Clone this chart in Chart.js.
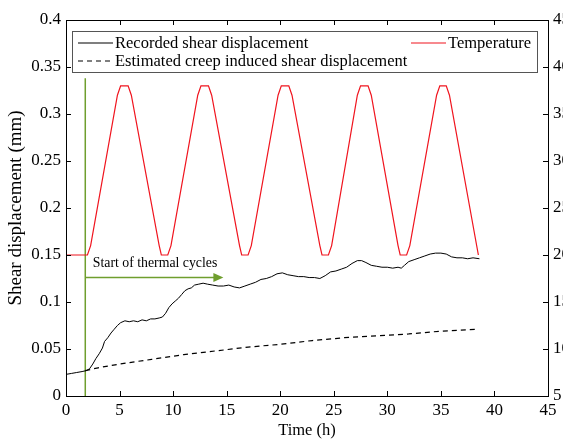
<!DOCTYPE html>
<html>
<head>
<meta charset="utf-8">
<script src="https://cdn.jsdelivr.net/npm/chart.js@4.4.0/dist/chart.umd.min.js"></script>
<style>
  html, body { margin: 0; padding: 0; background: #fff; overflow: hidden; }
  #wrap { width: 590px; height: 440px; }
</style>
</head>
<body>
<div id="wrap"><canvas id="shearChart" width="590" height="440"></canvas></div>
<script>
// values (time in hours)
const recordedTime = [0, 0.5, 1.0, 1.5, 1.9, 2.2, 2.5, 2.8, 3.1, 3.4, 3.6, 3.9, 4.2, 4.5, 4.8, 5.1, 5.5, 5.9, 6.3, 6.7,
  7.1, 7.5, 7.9, 8.3, 8.7, 9.0, 9.3, 9.6, 9.9, 10.2, 10.5, 10.8, 11.1, 11.4, 11.7, 12.0, 12.4, 12.8, 13.2, 13.7,
  14.2, 14.7, 15.2, 15.7, 16.2, 16.7, 17.2, 17.7, 18.2, 18.7, 19.2, 19.7, 20.2, 20.7, 21.2, 21.7, 22.2, 22.7, 23.2, 23.7,
  24.2, 24.7, 25.2, 25.7, 26.2, 26.7, 27.2, 27.6, 28.0, 28.5, 29.0, 29.5, 30.0, 30.5, 31.0, 31.3, 31.6, 32.0, 32.5, 33.0,
  33.5, 34.0, 34.5, 35.0, 35.5, 36.0, 36.5, 37.0, 37.5, 38.0, 38.6];
const recordedDisp = [0.023, 0.024, 0.025, 0.026, 0.027, 0.029, 0.034, 0.040, 0.045, 0.051, 0.058, 0.062, 0.067, 0.071, 0.075, 0.078, 0.080, 0.079, 0.080, 0.079,
  0.081, 0.080, 0.082, 0.082, 0.083, 0.084, 0.088, 0.094, 0.098, 0.101, 0.104, 0.108, 0.112, 0.114, 0.115, 0.118, 0.119, 0.120, 0.119, 0.118,
  0.117, 0.117, 0.118, 0.116, 0.115, 0.117, 0.119, 0.121, 0.124, 0.125, 0.127, 0.130, 0.131, 0.129, 0.128, 0.127, 0.127, 0.126, 0.126, 0.125,
  0.128, 0.132, 0.133, 0.135, 0.137, 0.141, 0.144, 0.144, 0.142, 0.139, 0.138, 0.137, 0.137, 0.136, 0.137, 0.136, 0.139, 0.143, 0.145, 0.147,
  0.149, 0.151, 0.152, 0.152, 0.151, 0.148, 0.147, 0.147, 0.146, 0.147, 0.146];

const creepTime = [1.8, 3, 5, 8, 11, 14, 17, 20, 23, 26, 29, 32, 35, 38.5];
const creepDisp = [0.027, 0.030, 0.034, 0.039, 0.044, 0.048, 0.052, 0.055, 0.059, 0.062, 0.064, 0.066, 0.069, 0.071];

const tempTime = [0, 2.0, 2.3, 4.8, 5.1, 5.8, 6.1, 8.7, 8.9, 9.5, 9.8, 12.3, 12.6, 13.3, 13.6, 16.2, 16.4, 17.0, 17.3,
  19.8, 20.1, 20.8, 21.1, 23.7, 23.9, 24.5, 24.8, 27.2, 27.5, 28.2, 28.5, 31.0, 31.2, 31.8, 32.1, 34.6, 34.9, 35.5, 35.8, 38.5];
const tempValue = [20, 20, 21, 37, 38, 38, 37, 21, 20, 20, 21, 37, 38, 38, 37, 21, 20, 20, 21,
  37, 38, 38, 37, 21, 20, 20, 21, 37, 38, 38, 37, 21, 20, 20, 21, 37, 38, 38, 37, 20];

const cycleStart = 1.8;        // h, green marker
const arrowEnd = 14.6;         // h
const arrowLevel = 0.126;      // mm
const markerTop = 0.338;       // mm

const xTicks = [0, 45, 5];
const yTicks = [0, 0.4, 0.05];
const y2Ticks = [5, 45, 5];

const serif = '"Liberation Serif", "Times New Roman", serif';
const green = '#6f9e2e';

const pts = (xs, ys) => xs.map((x, i) => ({ x: x, y: ys[i] }));

// frame, inward ticks, legend box, arrow head and note
const matlabLook = {
  id: 'matlabLook',
  afterDatasetsDraw(chart) {
    const ctx = chart.ctx;
    const a = chart.chartArea;
    const sx = chart.scales.x, sy = chart.scales.y, sy2 = chart.scales.y2;
    ctx.save();

    // arrow head
    const ax = sx.getPixelForValue(arrowEnd), ay = sy.getPixelForValue(arrowLevel);
    ctx.fillStyle = green;
    ctx.beginPath();
    ctx.moveTo(ax + 1, ay);
    ctx.lineTo(ax - 9, ay - 4.5);
    ctx.lineTo(ax - 9, ay + 4.5);
    ctx.closePath();
    ctx.fill();

    // note
    ctx.fillStyle = '#000';
    ctx.font = '13.8px ' + serif;
    ctx.textBaseline = 'alphabetic';
    ctx.textAlign = 'left';
    ctx.fillText('Start of thermal cycles', sx.getPixelForValue(2.5), sy.getPixelForValue(0.137));

    // frame
    ctx.strokeStyle = '#000';
    ctx.lineWidth = 1;
    ctx.strokeRect(Math.round(a.left) + 0.5, Math.round(a.top) + 0.5, Math.round(a.right - a.left), Math.round(a.bottom - a.top));

    // inward ticks
    ctx.beginPath();
    sx.ticks.forEach(t => {
      const p = Math.round(sx.getPixelForValue(t.value)) + 0.5;
      ctx.moveTo(p, a.bottom); ctx.lineTo(p, a.bottom - 5);
      ctx.moveTo(p, a.top); ctx.lineTo(p, a.top + 5);
    });
    sy.ticks.forEach(t => {
      const p = Math.round(sy.getPixelForValue(t.value)) + 0.5;
      ctx.moveTo(a.left, p); ctx.lineTo(a.left + 5, p);
    });
    sy2.ticks.forEach(t => {
      const p = Math.round(sy2.getPixelForValue(t.value)) + 0.5;
      ctx.moveTo(a.right, p); ctx.lineTo(a.right - 5, p);
    });
    ctx.stroke();

    // legend box
    const bx = a.left + 6, by = a.top + 11, bw = 465, bh = 41;
    ctx.fillStyle = '#fff';
    ctx.fillRect(bx, by, bw, bh);
    ctx.strokeStyle = '#555';
    ctx.strokeRect(bx + 0.5, by + 0.5, bw, bh);

    const ds = chart.data.datasets;
    const entry = (d, x0, yc) => {
      ctx.strokeStyle = d.borderColor;
      ctx.lineWidth = 1.2;
      ctx.setLineDash(d.borderDash || []);
      ctx.beginPath();
      ctx.moveTo(x0, yc); ctx.lineTo(x0 + 35, yc);
      ctx.stroke();
      ctx.setLineDash([]);
      ctx.fillStyle = '#000';
      ctx.font = '16.5px ' + serif;
      ctx.textBaseline = 'middle';
      ctx.fillText(d.label, x0 + 37, yc + 1);
    };
    entry(ds[0], bx + 6, by + 12);
    entry(ds[2], bx + 339, by + 12);
    entry(ds[1], bx + 6, by + 30);

    ctx.restore();
  }
};

const ctx = document.getElementById('shearChart').getContext('2d');
const shearChart = new Chart(ctx, {
  type: 'line',
  data: {
    datasets: [{
      label: 'Recorded shear displacement',
      data: pts(recordedTime, recordedDisp),
      borderColor: '#000',
      borderWidth: 1,
      yAxisID: 'y'
    }, {
      label: 'Estimated creep induced shear displacement',
      data: pts(creepTime, creepDisp),
      borderColor: '#000',
      borderWidth: 1.2,
      borderDash: [5, 4],
      yAxisID: 'y'
    }, {
      label: 'Temperature',
      data: pts(tempTime, tempValue),
      borderColor: '#f0141e',
      borderWidth: 1.2,
      yAxisID: 'y2'
    }, {
      label: 'start',
      data: [{ x: cycleStart, y: 0 }, { x: cycleStart, y: markerTop }],
      borderColor: green,
      borderWidth: 1.5,
      yAxisID: 'y'
    }, {
      label: 'arrow',
      data: [{ x: cycleStart, y: arrowLevel }, { x: arrowEnd - 8 / 10.67, y: arrowLevel }],
      borderColor: green,
      borderWidth: 1.5,
      yAxisID: 'y'
    }]
  },
  options: {
    responsive: false,
    animation: false,
    parsing: false,
    elements: { point: { radius: 0 }, line: { tension: 0, fill: false } },
    layout: { padding: { top: 20 } },
    plugins: { legend: { display: false }, tooltip: { enabled: false } },
    scales: {
      x: {
        type: 'linear',
        min: xTicks[0], max: xTicks[1],
        grid: { display: false, drawTicks: false },
        border: { display: false },
        ticks: { stepSize: xTicks[2], padding: 4, color: '#000', font: { family: serif, size: 17 }, maxRotation: 0 },
        title: { display: true, text: 'Time (h)', color: '#000', font: { family: serif, size: 16.5 }, padding: { top: 0, bottom: -1 } },
        afterFit: s => { s.height = 44; }
      },
      y: {
        position: 'left',
        min: yTicks[0], max: yTicks[1],
        grid: { display: false, drawTicks: false },
        border: { display: false },
        ticks: { stepSize: yTicks[2], padding: 5, color: '#000', font: { family: serif, size: 17 },
          callback: v => String(+v.toFixed(2)) },
        title: { display: true, text: 'Shear displacement (mm)', color: '#000', font: { family: serif, size: 19 }, padding: { top: 5, bottom: 0 } },
        afterFit: s => { s.width = 66; }
      },
      y2: {
        position: 'right',
        min: y2Ticks[0], max: y2Ticks[1],
        grid: { display: false, drawTicks: false },
        border: { display: false },
        ticks: { stepSize: y2Ticks[2], padding: 5, color: '#000', font: { family: serif, size: 17 } },
        afterFit: s => { s.width = 42; }
      }
    }
  },
  plugins: [matlabLook]
});
</script>
</body>
</html>
